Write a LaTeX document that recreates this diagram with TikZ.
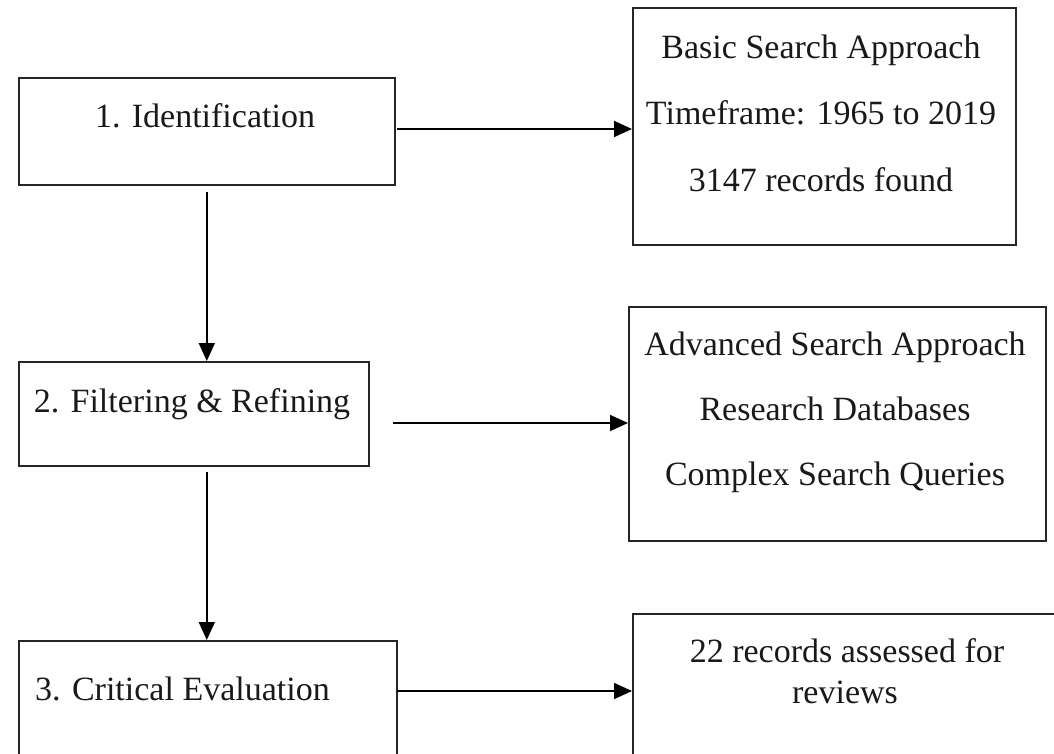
\documentclass[tikz,border=0pt]{standalone}
\usepackage{fontspec}
\setmainfont{Liberation Serif}
\usetikzlibrary{arrows.meta}
\begin{document}
\begin{tikzpicture}[x=1pt,y=-1pt,
  box/.style={draw=black!85, line width=1.6pt, inner sep=0pt, anchor=north west},
  txt/.style={anchor=base, inner sep=0pt, font=\fontsize{34}{40}\selectfont, text=black!90},
  arr/.style={draw=black, line width=1.6pt, -{Triangle[length=18pt,width=16pt]}}]
\clip (0,0) rectangle (1054,754);
% boxes
\node[box, minimum width=376pt, minimum height=107pt] (b1) at (18,77) {};
\node[box, minimum width=383pt, minimum height=237pt] (r1) at (632,7) {};
\node[box, minimum width=350pt, minimum height=104pt] (b2) at (18,361) {};
\node[box, minimum width=417pt, minimum height=234pt] (r2) at (628,306) {};
\node[box, minimum width=378pt, minimum height=160pt] (b3) at (18,640) {};
\node[box, minimum width=468pt, minimum height=187pt] (r3) at (632,613) {};
% texts
\node[txt] (t1) at (205,128) {1. Identification};
\node[txt] (r1a) at (821,59) {Basic Search Approach};
\node[txt] (r1b) at (821,125) {Timeframe: 1965 to 2019};
\node[txt] (r1c) at (821,192) {3147 records found};
\node[txt] (t2) at (192,412) {2. Filtering \& Refining};
\node[txt] (r2a) at (835,355) {Advanced Search Approach};
\node[txt] (r2b) at (835,420) {Research Databases};
\node[txt] (r2c) at (835,485) {Complex Search Queries};
\node[txt, anchor=base west] (t3) at (35,700) {3. Critical Evaluation};
\node[txt] (r3a) at (847,662) {22 records assessed for};
\node[txt] (r3b) at (845,703) {reviews};
% connectors
\coordinate (s1) at (397,129);
\coordinate (s2) at (393,423);
\coordinate (s3) at (397,691);
\draw[arr] (s1) -- (s1 -| r1.west);
\draw[arr] (s2) -- (s2 -| r2.west);
\draw[arr] (s3) -- (s3 -| r3.west);
\draw[arr, shorten <=6pt] (b1.south) -- (b1.south |- b2.north);
\draw[arr, shorten <=5pt] (b1.south |- b2.south) -- (b1.south |- b3.north);
\end{tikzpicture}
\end{document}
